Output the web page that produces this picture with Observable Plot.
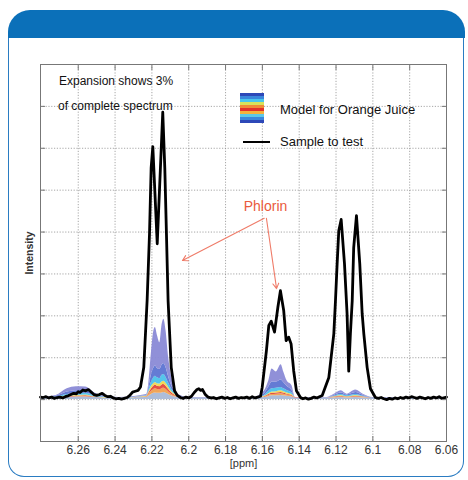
<!DOCTYPE html>
<html>
<head>
<meta charset="utf-8">
<script src="https://cdn.jsdelivr.net/npm/d3@7"></script>
<script src="https://cdn.jsdelivr.net/npm/@observablehq/plot@0.6"></script>
<style>
  html, body { margin: 0; padding: 0; background: #fff; }
  #card { position: relative; width: 468px; height: 480px; overflow: hidden; font-family: "Liberation Sans", Arial, sans-serif; }
  #header { position: absolute; left: 8px; top: 10px; width: 457px; height: 28px; background: #0b70b9; border-radius: 22px 22px 0 0; z-index: 3; }
  #panel { position: absolute; left: 8px; top: 38px; width: 454px; height: 438px; border: 1.5px solid #2a7cc2; border-top: none; border-radius: 0 0 16px 16px; z-index: 0; }
  #chart { position: absolute; left: 0; top: 0; z-index: 1; }
  .ov { position: absolute; z-index: 2; color: #111; font-size: 12px; line-height: 14px; white-space: nowrap; }
  #swatch { position: absolute; z-index: 2; left: 240px; top: 93px; width: 24px; height: 30px;
    background: linear-gradient(to bottom,
      #2d48b8 0px, #2d48b8 3px, #3a86dc 3px, #3a86dc 6px, #48c6ec 6px, #48c6ec 9px,
      #d8e25a 9px, #d8e25a 12px, #f08a36 12px, #f08a36 15px, #e2302a 15px, #e2302a 18px,
      #f4b23c 18px, #f4b23c 21px, #5cc8e8 21px, #5cc8e8 24px, #3a86dc 24px, #3a86dc 27px,
      #2d48b8 27px, #2d48b8 30px); }
  #sampleLine { position: absolute; z-index: 2; left: 243px; top: 140.5px; width: 27px; height: 2.8px; background: #000; }
</style>
</head>
<body>
<div id="card">
  <div id="header"></div>
  <div id="panel"></div>
  <div id="chart"></div>
  <div class="ov" style="left:59px; top:74px;">Expansion shows 3%</div>
  <div class="ov" style="left:58px; top:99px;">of complete spectrum</div>
  <div id="swatch"></div>
  <div class="ov" style="left:280px; top:102px; font-size:13px; line-height:16px;">Model for Orange Juice</div>
  <div id="sampleLine"></div>
  <div class="ov" style="left:280px; top:134px; font-size:13px; line-height:16px;">Sample to test</div>
</div>
<script>
// ---- axis ticks ----
const xTicks = [6.26, 6.24, 6.22, 6.2, 6.18, 6.16, 6.14, 6.12, 6.1, 6.08, 6.06];
const xTickLabels = ["6.26", "6.24", "6.22", "6.2", "6.18", "6.16", "6.14", "6.12", "6.1", "6.08", "6.06"];
const yGrid = [-1, 0, 1, 2, 3, 4, 5, 6, 7, 8];

// ---- sample to test (black spectrum) ----
const sampleX = [
  6.2805, 6.2790, 6.2775, 6.2760, 6.2745, 6.2730, 6.2715, 6.2700, 6.2685, 6.2670,
  6.2655, 6.2640, 6.2625, 6.2610, 6.2600, 6.2590, 6.2575, 6.2560, 6.2545, 6.2530,
  6.2515, 6.2500, 6.2485, 6.2470, 6.2455, 6.2440, 6.2425, 6.2410, 6.2395, 6.2380,
  6.2365, 6.2350, 6.2335, 6.2320, 6.2305, 6.2290, 6.2275, 6.2262, 6.2244, 6.2226,
  6.2213, 6.2204, 6.2195, 6.2171, 6.2141, 6.2130, 6.2121, 6.2112, 6.2095, 6.2077,
  6.2062, 6.2045, 6.2030, 6.2015, 6.2000, 6.1985, 6.1970, 6.1955, 6.1945, 6.1935,
  6.1925, 6.1910, 6.1895, 6.1880, 6.1865, 6.1850, 6.1835, 6.1820, 6.1805, 6.1790,
  6.1775, 6.1760, 6.1745, 6.1730, 6.1715, 6.1700, 6.1685, 6.1670, 6.1655, 6.1640,
  6.1625, 6.1610, 6.1601, 6.1578, 6.1565, 6.1552, 6.1534, 6.1516, 6.1502, 6.1484,
  6.1471, 6.1457, 6.1444, 6.1430, 6.1415, 6.1393, 6.1380, 6.1365, 6.1350, 6.1335,
  6.1320, 6.1305, 6.1290, 6.1275, 6.1239, 6.1212, 6.1203, 6.1194, 6.1185, 6.1172,
  6.1154, 6.1140, 6.1131, 6.1122, 6.1112, 6.1104, 6.1089, 6.1071, 6.1058, 6.1049,
  6.1031, 6.1013, 6.0986, 6.0970, 6.0955, 6.0940, 6.0925, 6.0910, 6.0895, 6.0880,
  6.0865, 6.0850, 6.0835, 6.0820, 6.0805, 6.0790, 6.0775, 6.0760, 6.0745, 6.0730,
  6.0715, 6.0700, 6.0685, 6.0670, 6.0655, 6.0640, 6.0625, 6.0610, 6.0600
];
const sampleY = [
  0.06, 0.05, 0.07, 0.04, 0.06, 0.03, 0.05, 0.06, 0.04, 0.07,
  0.09, 0.12, 0.15, 0.14, 0.19, 0.17, 0.23, 0.21, 0.24, 0.18,
  0.12, 0.10, 0.12, 0.15, 0.10, 0.07, 0.08, 0.04, 0.02, 0.03,
  0.01, 0.03, 0.05, 0.10, 0.18, 0.20, 0.22, 0.30, 0.77, 2.36,
  3.96, 5.54, 6.04, 3.72, 6.86, 5.54, 3.96, 2.36, 0.77, 0.21,
  0.10, 0.05, 0.03, 0.06, 0.04, 0.08, 0.17, 0.24, 0.26, 0.22,
  0.24, 0.12, 0.06, 0.04, 0.05, 0.02, 0.04, 0.06, 0.03, 0.05,
  0.02, 0.04, 0.06, 0.03, 0.05, 0.04, 0.06, 0.03, 0.07, 0.04,
  0.06, 0.08, 0.29, 1.17, 1.77, 1.87, 1.61, 2.20, 2.60, 2.12,
  1.41, 1.49, 1.33, 0.69, 0.21, 0.05, 0.02, 0.04, 0.01, 0.03,
  0.06, 0.04, 0.07, 0.10, 0.53, 1.57, 2.36, 3.24, 4.03, 4.30,
  3.24, 2.05, 0.68, 1.57, 2.36, 3.63, 4.39, 3.24, 2.05, 1.57,
  0.77, 0.26, 0.05, 0.03, 0.05, 0.02, 0.00, 0.03, 0.01, 0.04,
  0.02, 0.05, 0.03, 0.06, 0.04, 0.07, 0.05, 0.03, 0.06, 0.04,
  0.02, 0.05, 0.03, 0.06, 0.04, 0.07, 0.03, 0.05, 0.06
];

// ---- model for orange juice (stacked percentile bands, upper bounds) ----
const modelX = [
  6.2805, 6.2720, 6.2660, 6.2610, 6.2560, 6.2510, 6.2460, 6.2380, 6.2229, 6.2217,
  6.2202, 6.2190, 6.2181, 6.2170, 6.2157, 6.2145, 6.2135, 6.2123, 6.2110, 6.2094,
  6.2072, 6.2056, 6.2000, 6.1650, 6.1590, 6.1565, 6.1547, 6.1524, 6.1498, 6.1484,
  6.1466, 6.1439, 6.1421, 6.1350, 6.1250, 6.1212, 6.1172, 6.1140, 6.1093, 6.1050,
  6.1000, 6.0600
];
const q0 = [
  0.00, 0.00, 0.00, 0.00, 0.00, 0.00, 0.00, 0.00, 0.00, 0.00,
  0.00, 0.00, 0.00, 0.00, 0.00, 0.00, 0.00, 0.00, 0.00, 0.00,
  0.00, 0.00, 0.00, 0.00, 0.00, 0.00, 0.00, 0.00, 0.00, 0.00,
  0.00, 0.00, 0.00, 0.00, 0.00, 0.00, 0.00, 0.00, 0.00, 0.00,
  0.00, 0.00
];
const q1 = [
  0.04, 0.04, 0.05, 0.06, 0.06, 0.05, 0.04, 0.04, 0.05, 0.08,
  0.12, 0.15, 0.16, 0.15, 0.15, 0.16, 0.17, 0.15, 0.12, 0.09,
  0.06, 0.05, 0.04, 0.04, 0.05, 0.07, 0.09, 0.09, 0.10, 0.09,
  0.08, 0.06, 0.04, 0.04, 0.04, 0.04, 0.05, 0.04, 0.05, 0.04,
  0.04, 0.04
];
const q2 = [
  0.04, 0.04, 0.06, 0.07, 0.07, 0.05, 0.04, 0.04, 0.06, 0.12,
  0.20, 0.24, 0.26, 0.24, 0.23, 0.26, 0.27, 0.24, 0.19, 0.13,
  0.08, 0.06, 0.04, 0.04, 0.06, 0.10, 0.12, 0.13, 0.14, 0.13,
  0.11, 0.08, 0.04, 0.04, 0.04, 0.05, 0.07, 0.05, 0.07, 0.05,
  0.04, 0.04
];
const q3 = [
  0.04, 0.04, 0.07, 0.08, 0.09, 0.06, 0.04, 0.04, 0.07, 0.15,
  0.26, 0.32, 0.35, 0.32, 0.31, 0.35, 0.36, 0.32, 0.25, 0.17,
  0.10, 0.06, 0.04, 0.04, 0.07, 0.12, 0.15, 0.16, 0.17, 0.16,
  0.13, 0.10, 0.05, 0.04, 0.04, 0.06, 0.08, 0.06, 0.08, 0.06,
  0.04, 0.04
];
const q4 = [
  0.04, 0.05, 0.09, 0.10, 0.11, 0.07, 0.05, 0.04, 0.08, 0.18,
  0.32, 0.38, 0.41, 0.38, 0.37, 0.42, 0.44, 0.39, 0.30, 0.20,
  0.12, 0.07, 0.04, 0.04, 0.08, 0.14, 0.18, 0.19, 0.21, 0.19,
  0.16, 0.12, 0.05, 0.04, 0.04, 0.07, 0.10, 0.07, 0.10, 0.07,
  0.04, 0.04
];
const q5 = [
  0.04, 0.06, 0.12, 0.14, 0.15, 0.09, 0.06, 0.04, 0.09, 0.22,
  0.42, 0.52, 0.56, 0.52, 0.50, 0.58, 0.60, 0.53, 0.40, 0.26,
  0.15, 0.08, 0.04, 0.04, 0.10, 0.20, 0.26, 0.27, 0.29, 0.26,
  0.22, 0.16, 0.05, 0.04, 0.04, 0.08, 0.12, 0.09, 0.12, 0.08,
  0.04, 0.04
];
const q6 = [
  0.04, 0.08, 0.18, 0.21, 0.22, 0.12, 0.07, 0.04, 0.10, 0.28,
  0.60, 0.75, 0.80, 0.74, 0.72, 0.82, 0.86, 0.76, 0.56, 0.35,
  0.19, 0.10, 0.04, 0.04, 0.14, 0.30, 0.42, 0.42, 0.47, 0.41,
  0.32, 0.22, 0.05, 0.04, 0.04, 0.10, 0.16, 0.11, 0.17, 0.10,
  0.04, 0.04
];
const q7 = [
  0.05, 0.10, 0.26, 0.31, 0.30, 0.16, 0.09, 0.05, 0.12, 0.38,
  1.15, 1.62, 1.72, 1.53, 1.36, 1.78, 1.92, 1.64, 1.04, 0.57,
  0.26, 0.12, 0.05, 0.05, 0.20, 0.45, 0.73, 0.66, 0.83, 0.66,
  0.45, 0.33, 0.05, 0.05, 0.05, 0.12, 0.21, 0.13, 0.23, 0.12,
  0.05, 0.05
];
const modelLevels = [q0, q1, q2, q3, q4, q5, q6, q7];
const bandColors = ["#a9b9d8", "#f0a050", "#e4483a", "#f0d84e", "#4cc2ea", "#5c74d2", "#8a8ad6"];

// ---- annotation ----
const annoLabel = "Phlorin";
const annoAt = {x: 6.1583, y: 4.62};
const annoArrows = [
  {x1: 6.1590, y1: 4.33, x2: 6.2034, y2: 3.32},
  {x1: 6.1578, y1: 4.33, x2: 6.1523, y2: 2.65}
];

const sample = sampleX.map((x, i) => ({x, y: sampleY[i]}));
const bandMarks = bandColors.map((color, k) =>
  Plot.areaY(modelX.map((x, i) => ({x, lo: modelLevels[k][i], hi: modelLevels[k + 1][i]})), {
    x: "x", y1: "lo", y2: "hi", fill: color, fillOpacity: 0.95, curve: "monotone-x"
  })
);

const chart = Plot.plot({
  width: 468,
  height: 480,
  marginLeft: 40,
  marginRight: 22,
  marginTop: 64,
  marginBottom: 39,
  style: {background: "transparent", fontFamily: "'Liberation Sans', Arial, sans-serif", color: "#333"},
  x: {domain: [6.2805, 6.06], ticks: xTicks, tickFormat: d => xTickLabels[xTicks.indexOf(d)] ?? "", label: null},
  y: {domain: [-1, 8], ticks: yGrid, label: null},
  marks: [
    Plot.gridX(xTicks, {stroke: "#8a8a8a", strokeOpacity: 0.75, strokeDasharray: "1.2,1.6"}),
    Plot.gridY(yGrid, {stroke: "#8a8a8a", strokeOpacity: 0.75, strokeDasharray: "1.2,1.6"}),
    ...bandMarks,
    Plot.line(sample, {x: "x", y: "y", stroke: "#000", strokeWidth: 2.8, strokeLinejoin: "round"}),
    Plot.arrow(annoArrows, {x1: "x1", y1: "y1", x2: "x2", y2: "y2", stroke: "#ef7b68", strokeWidth: 1.1, headLength: 8, bend: false}),
    Plot.text([annoLabel], {x: () => annoAt.x, y: () => annoAt.y, text: d => d, fill: "#ea5a3c", fontSize: 14}),
    Plot.axisX({anchor: "bottom", ticks: xTicks, tickFormat: d => xTickLabels[xTicks.indexOf(d)] ?? "", tickSize: -5, tickPadding: 9, fontSize: 12, stroke: "#777", fill: "#333", label: null}),
    Plot.axisX({anchor: "top", ticks: xTicks, tickFormat: () => "", tickSize: -5, tickPadding: 0, stroke: "#777", label: null}),
    Plot.axisY({anchor: "left", ticks: yGrid, tickFormat: () => "", tickSize: -5, tickPadding: 0, stroke: "#777", label: null}),
    Plot.axisY({anchor: "right", ticks: yGrid, tickFormat: () => "", tickSize: -5, tickPadding: 0, stroke: "#777", label: null}),
    Plot.frame({stroke: "#777", strokeWidth: 1}),
    Plot.text(["Intensity"], {frameAnchor: "left", textAnchor: "middle", lineAnchor: "middle", rotate: -90, dx: -11, fontSize: 10.5, fontWeight: 600, fill: "#333"}),
    Plot.text(["[ppm]"], {frameAnchor: "bottom", textAnchor: "middle", lineAnchor: "middle", dy: 22, fontSize: 11, fill: "#333"})
  ]
});
document.getElementById("chart").append(chart);
</script>
</body>
</html>
